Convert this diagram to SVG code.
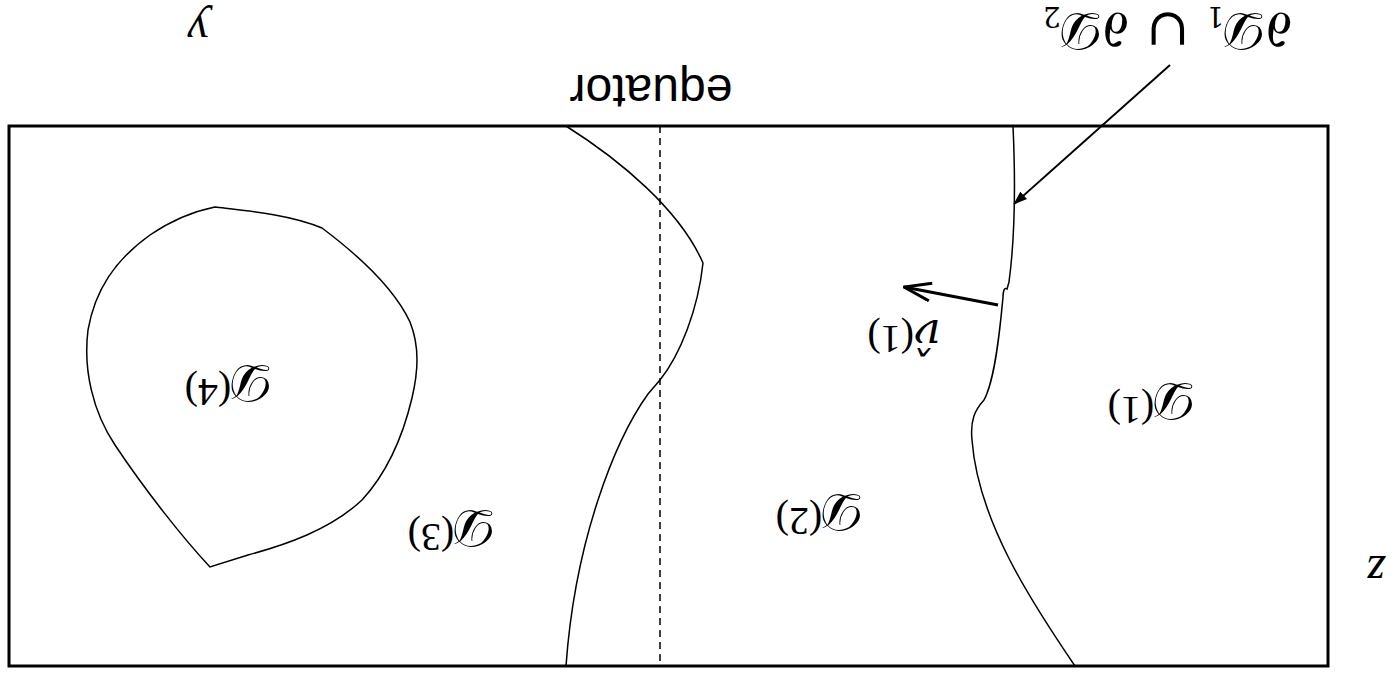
<svg xmlns="http://www.w3.org/2000/svg" width="1394" height="678" viewBox="0 0 1394 678">
<style>
.frame{fill:none;stroke:#000;stroke-width:3}
.curve{fill:none;stroke:#000;stroke-width:1.5}
.dash{fill:none;stroke:#000;stroke-width:1.5;stroke-dasharray:7,5}
.math{font-family:"DejaVu Serif","DejaVu Sans","Noto Sans",serif;font-size:52px;fill:#000}
.it{font-family:"Liberation Serif",serif;font-style:italic;font-size:48px;fill:#000}
.nu{font-family:"DejaVu Serif",serif;font-style:italic;font-size:44px;fill:#000}
.rm{font-family:"Liberation Serif",serif;font-style:normal;font-size:40px;fill:#000}
.sans{font-family:"Liberation Sans",Arial,sans-serif;font-size:48px;fill:#000}
</style>
<defs>
<marker id="filled" markerWidth="14" markerHeight="10" refX="13" refY="5" orient="auto" markerUnits="userSpaceOnUse" viewBox="0 0 14 10">
<path d="M0,0 L14,5 L0,10 Z" fill="#000"/>
</marker>
<marker id="open" markerWidth="30" markerHeight="20" refX="29" refY="10" orient="auto" markerUnits="userSpaceOnUse" viewBox="0 0 30 20">
<path d="M2,1 L29,10 L2,19" fill="none" stroke="#000" stroke-width="3"/>
</marker>
</defs>
<g id="frame">
<rect class="frame" x="9" y="126" width="1319" height="540"/>
<line class="dash" x1="660" y1="126" x2="660" y2="666"/>
</g>
<g id="boundaries">
<path id="boundary23" class="curve" d="M566,126 C620,160 680,210 703,263 C698,310 680,355 660,380 L648,394 C615,440 575,540 566,666"/>
<path id="boundary12" class="curve" d="M1013,126 C1015,170 1016,230 1009,282 L1007,289 C1004,287 1003,292 1003,297 C1000,330 995,380 984,400 C975,410 970,420 972,440 C978,520 1030,600 1075,666"/>
<path id="boundary4" class="curve" d="M210,567 C182,537 145,490 115,445 C93,412 83,370 88,330 C95,290 115,260 150,235 C175,218 200,210 215,207 C240,210 290,214 322,228 C362,258 395,290 410,322 C420,347 418,372 412,398 C402,440 385,475 362,500 C330,530 285,545 248,555 C232,560 216,565 210,567 Z"/>
</g>
<g id="connectors">
<line x1="1170" y1="65" x2="1014" y2="204" stroke="#000" stroke-width="2" marker-end="url(#filled)"/>
<line x1="998" y1="305" x2="904" y2="287" stroke="#000" stroke-width="3" marker-end="url(#open)"/>
</g>
<g id="label-y" transform="rotate(180 198 21)"><text class="it" x="198" y="27" text-anchor="middle">y</text></g>
<g id="label-z" transform="rotate(180 1376 567)"><text class="it" x="1376" y="578" text-anchor="middle">z</text></g>
<g id="label-equator" transform="rotate(180 651 92)"><text class="sans" x="651" y="109" text-anchor="middle">equator</text></g>
<g id="label-boundary" transform="rotate(180 1168 29)"><text class="math" x="1168" y="45" text-anchor="middle">∂𝒟<tspan font-size="28" dy="6">1</tspan><tspan dy="-6"> ∪ ∂𝒟</tspan><tspan font-size="28" dy="6">2</tspan></text></g>
<g id="D1" transform="rotate(180 1152 406)"><text class="math" x="1152" y="429" text-anchor="middle">𝒟<tspan class="rm" dy="-14">(1)</tspan></text></g>
<g id="D2" transform="rotate(180 820 517)"><text class="math" x="820" y="540" text-anchor="middle">𝒟<tspan class="rm" dy="-14">(2)</tspan></text></g>
<g id="D3" transform="rotate(180 452 533)"><text class="math" x="452" y="556" text-anchor="middle">𝒟<tspan class="rm" dy="-14">(3)</tspan></text></g>
<g id="D4" transform="rotate(180 229 388)"><text class="math" x="229" y="411" text-anchor="middle">𝒟<tspan class="rm" dy="-14">(4)</tspan></text></g>
<g id="nu1" transform="rotate(180 904 340)">
<text class="nu" x="904" y="360" text-anchor="middle">ν̂<tspan class="rm" dy="-6">(1)</tspan></text>
</g>
</svg>
